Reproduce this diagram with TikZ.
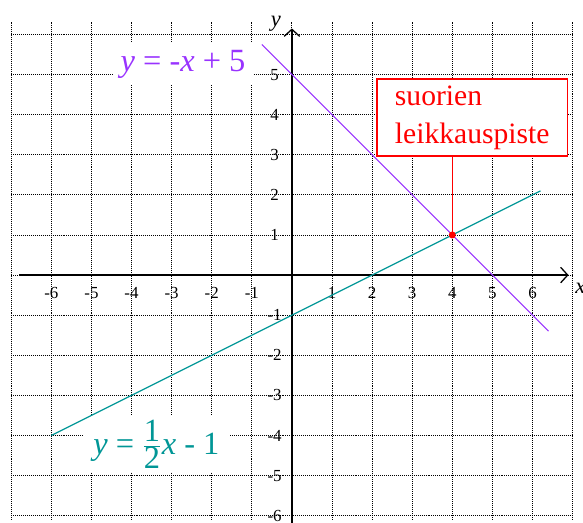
\documentclass[tikz,border=0pt]{standalone}
\usepackage{fontspec}
\setmainfont{Liberation Serif}
\usetikzlibrary{arrows.meta, positioning, calc}
\definecolor{lilac}{RGB}{153,51,255}
\definecolor{tealline}{RGB}{0,150,150}

\begin{document}
\begin{tikzpicture}[
    gridline/.style={line width=0.6pt, dash pattern=on 0.7pt off 0.7pt},
    axis/.style={line width=1pt,
                 -{Straight Barb[length=5pt,width=11pt,line width=0.9pt]}},
    tick/.style={font=\fontsize{12}{14}\selectfont, inner sep=0pt},
    eqlabel/.style={fill=white, inner sep=0pt,
                    font=\fontsize{23}{26}\selectfont},
    infobox/.style={draw=red, fill=white, line width=0.9pt, text=red,
                    align=left, text width=3.86cm, inner xsep=0.45cm,
                    minimum height=1.92cm,
                    font=\fontsize{21}{27}\selectfont}
  ]
  \useasboundingbox (-7.28,-6.18) rectangle (7.26,6.86);

  % grid
  \foreach \x in {-7,...,7} {
    \draw[gridline] (\x,-6.1) -- (\x,6.3);
  }
  \foreach \y in {-6,...,6} {
    \draw[gridline] (-7,\y) -- (7,\y);
  }

  % axes
  \draw[axis] (-6.8,0) -- (6.9,0);
  \draw[axis] (0,-6.2) -- (0,6.15);
  \node[font=\fontsize{16}{18}\selectfont\itshape, anchor=west, inner sep=0pt]
    (xlab) at (7.06,-0.32) {x};
  \node[font=\fontsize{16}{18}\selectfont\itshape, inner sep=0pt]
    (ylab) at (-0.4,6.27) {y};

  \foreach \x in {-6,-5,-4,-3,-2,-1,1,2,3,4,5,6} {
    \node[tick] (tx\x) at (\x,-0.44) {\x};
  }
  \foreach \y in {-6,-5,-4,-3,-2,-1,1,2,3,4,5} {
    \node[tick] (ty\y) at (-0.43,\y) {\y};
  }

  % labels of the lines
  \node[eqlabel, text=lilac, minimum width=3.49cm, minimum height=1.05cm]
    (eqa) at (-2.715,5.265) {\textit{y} = -\textit{x} + 5};
  \node[eqlabel, text=tealline, minimum width=3.66cm, minimum height=1.39cm]
    (eqb) at (-3.38,-4.215)
    {\textit{y} = $\frac{\textup{1}}{\textup{2}}$\textit{x} - 1};

  % the two lines
  \coordinate (P) at (4,1);
  \draw[lilac, line width=0.8pt] (-0.75,5.75) -- (6.4,-1.4);
  \draw[tealline, line width=0.9pt] (-6,-4) -- (6.2,2.1);

  % intersection
  \node[infobox] (box) at (4.5,3.93) {suorien\\leikkauspiste};
  \draw[red, line width=0.9pt] (box.south -| P) -- (P);
  \fill[red] (P) circle (2.5pt);
\end{tikzpicture}
\end{document}
